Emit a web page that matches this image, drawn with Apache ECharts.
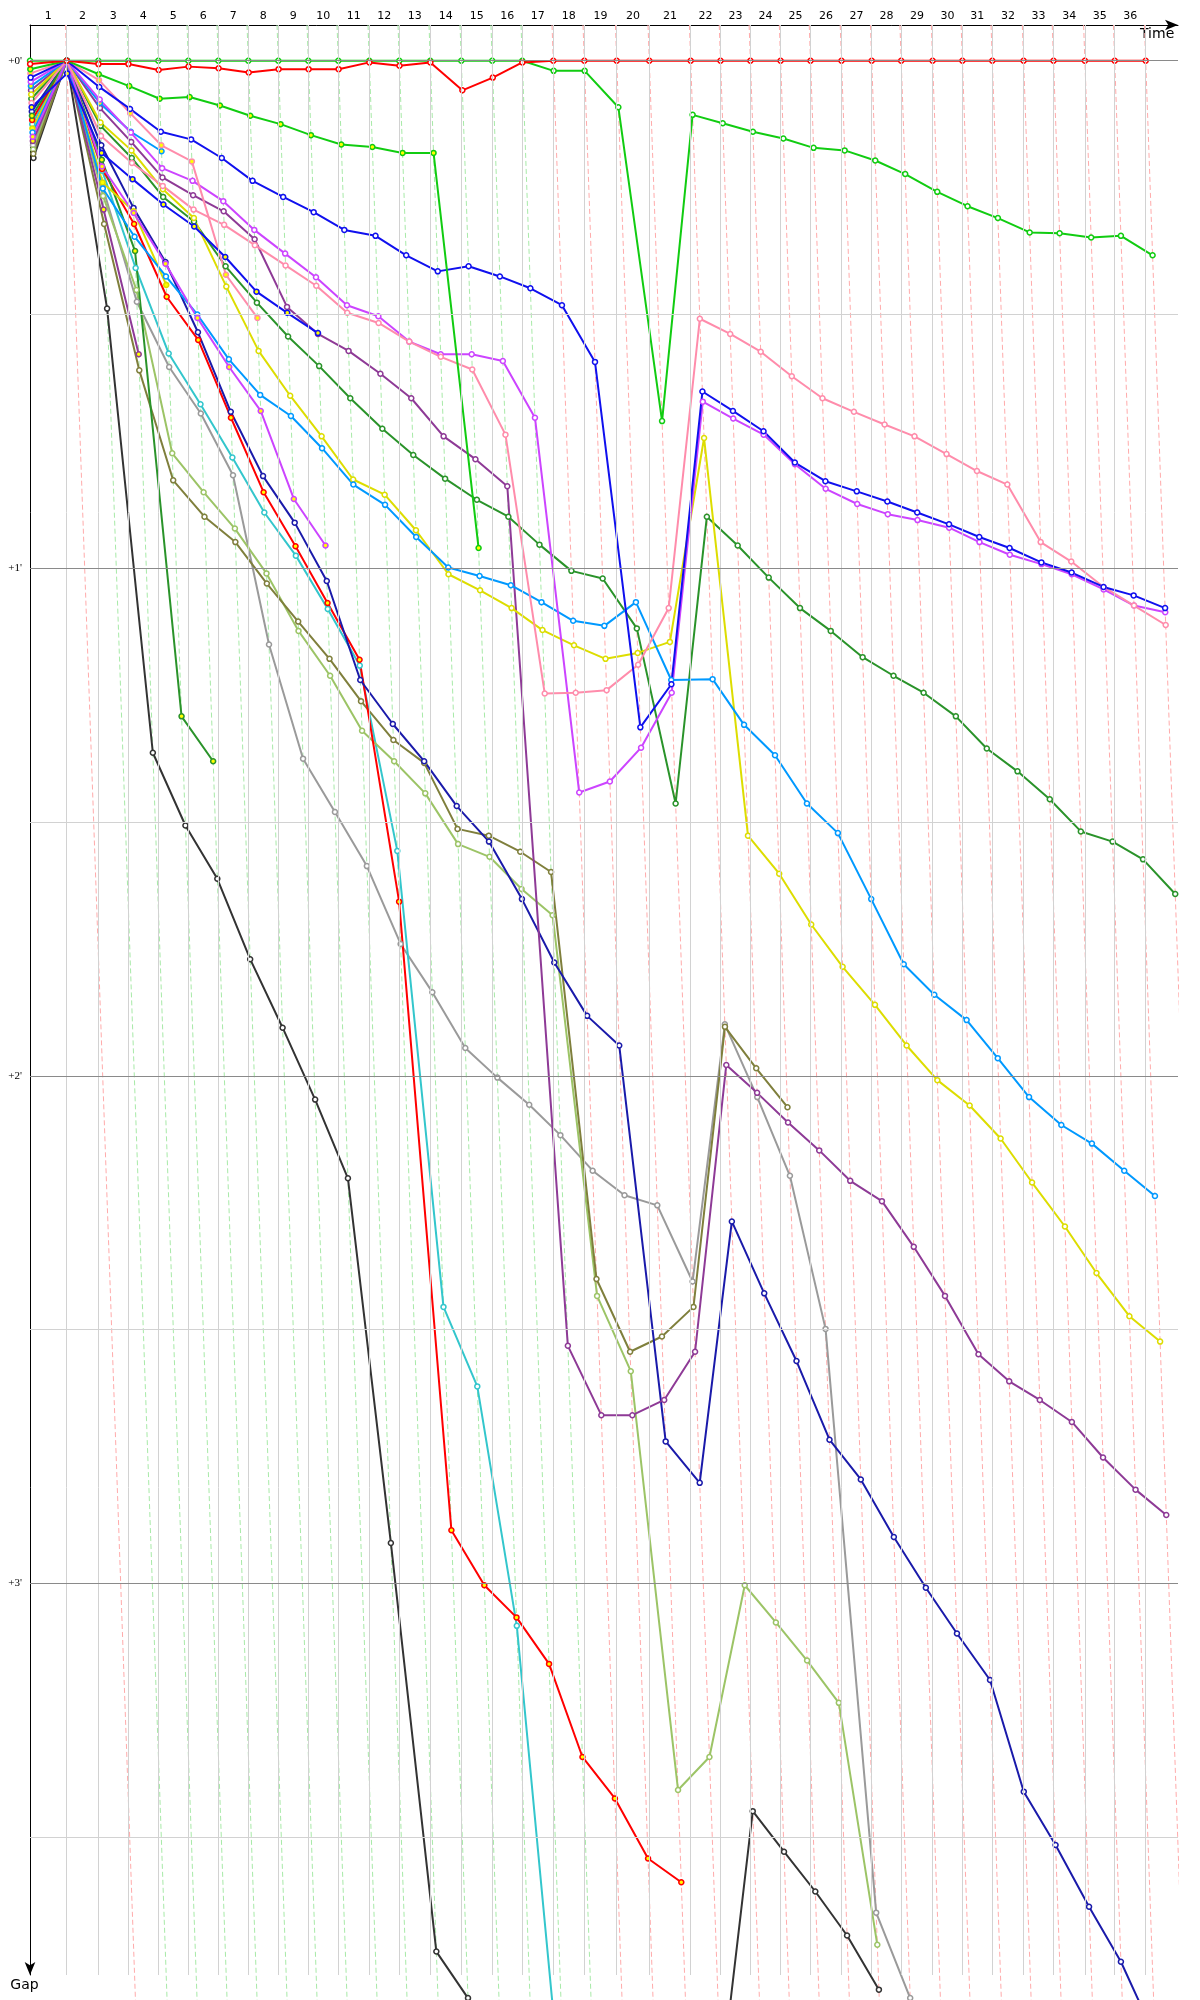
<!DOCTYPE html>
<html>
<head>
<meta charset="utf-8">
<script src="https://cdn.jsdelivr.net/npm/echarts@6/dist/echarts.min.js"></script>
<style>
  html, body { margin: 0; padding: 0; background: #fff; }
  #chart { width: 1200px; height: 2000px; }
</style>
</head>
<body>
<div id="chart"></div>
<script>
// leader's race time (s) at the end of each lap, lap 0 .. 36
var leaderTime = [0, 122.3, 227.7, 327.7, 427.7, 527.7, 627.7, 727.7, 827.7, 927.7, 1027.7,
  1131, 1231, 1334.3, 1437.7, 1540.7, 1641, 1744.3, 1847.7, 1955.7, 2064.3,
  2202.3, 2301.7, 2401.3, 2502, 2601.7, 2705, 2805.7, 2904, 3008.7, 3108,
  3207.7, 3312, 3411.7, 3516.3, 3615.7, 3719];
// who leads each lap (1..36): R = red car, G = green car
var lapLeader = ['R', 'G', 'G', 'G', 'G', 'G', 'G', 'G', 'G', 'G', 'G', 'G', 'G', 'G', 'G', 'G',
  'R', 'R', 'R', 'R', 'R', 'R', 'R', 'R', 'R', 'R', 'R', 'R', 'R', 'R', 'R', 'R', 'R', 'R', 'R', 'R'];
var gapTicks = [0, 60, 120, 180];
var minuteLines = [0, 60, 120, 180];
var halfMinuteLines = [30, 90, 150, 210];

// gaps to the leader in seconds, index = lap (0 = grid)
var greenA = [0, 0, 0, 0, 0, 0, 0, 0, 0, 0, 0, 0, 0, 0, 0, 0, 0,
  1.2, 1.2, 5.5, 42.6, 6.4, 7.4, 8.4, 9.2, 10.3, 10.6, 11.8, 13.4, 15.5, 17.2, 18.6, 20.3, 20.4, 20.9, 20.7, 23.0];
var redA = [0.4, 0, 0.4, 0.4, 1.1, 0.7, 0.9, 1.4, 1.0, 1.0, 1.0, 0.2, 0.6, 0.2, 3.5, 2.0, 0.2,
  0, 0, 0, 0, 0, 0, 0, 0, 0, 0, 0, 0, 0, 0, 0, 0, 0, 0, 0, 0];
var greenB = [1.0, 0, 1.6, 3.0, 4.5, 4.3, 5.3, 6.5, 7.5, 8.8, 9.9, 10.2, 10.9, 10.9, 57.6];
var pinkA = [5.0, 0, 8.9, 12.1, 14.8, 17.6, 19.4, 21.8, 24.2, 26.6, 29.8, 31.0, 33.2, 35.0, 36.5, 44.2, 74.8,
  74.7, 74.4, 71.4, 64.7, 30.5, 32.3, 34.4, 37.3, 39.9, 41.5, 43.0, 44.4, 46.5, 48.5, 50.1, 56.9, 59.2, 62.2, 64.4, 66.7];
var pinkB = [1.5, 0, 2.3, 6.2, 10.0, 11.9, 25.3, 30.4];
var blueA = [2.0, 0, 3.1, 5.7, 8.4, 9.3, 11.5, 14.2, 16.1, 17.9, 20.0, 20.7, 23.0, 24.9, 24.3, 25.5, 26.9,
  28.9, 35.6, 78.8, 73.7, 39.1, 41.4, 43.8, 47.5, 49.7, 50.9, 52.1, 53.4, 54.8, 56.3, 57.6, 59.3, 60.5, 62.2, 63.2, 64.7];
var blueB = [5.5, 1.5, 10.9, 14.0, 17.0, 19.6, 23.2, 27.3, 29.8, 32.2];
var violetA = [2.5, 0, 4.6, 8.5, 12.7, 14.2, 16.6, 20.0, 22.8, 25.6, 28.9, 30.2, 33.2, 34.7, 34.7, 35.5, 42.2,
  86.5, 85.2, 81.2, 74.7, 40.3, 42.3, 44.2, 47.7, 50.6, 52.4, 53.6, 54.3, 55.2, 56.9, 58.4, 59.5, 60.7, 62.5, 64.4, 65.2];
var violetB = [9.0, 0, 12.5, 18.0, 24.0, 30.4, 36.2, 41.4, 51.8, 57.3];
var skyA = [8.5, 0, 15.1, 20.8, 25.5, 30.0, 35.3, 39.5, 42.0, 45.8, 50.1, 52.5, 56.3, 59.9, 60.9, 62.0, 64.0,
  66.2, 66.8, 64.0, 73.2, 73.1, 78.5, 82.1, 87.8, 91.3, 99.1, 106.8, 110.4, 113.4, 117.9, 122.5, 125.8, 128.0, 131.2, 134.2];
var skyB = [3.0, 0, 5.0, 8.4, 10.7];
var purpleA = [3.5, 0, 5.6, 9.6, 13.8, 15.9, 17.8, 21.1, 29.1, 32.3, 34.3, 37.0, 39.9, 44.4, 47.1, 50.3, 151.9,
  160.1, 160.1, 158.3, 152.6, 118.7, 122.0, 125.5, 128.8, 132.4, 134.8, 140.2, 146.0, 152.9, 156.1, 158.3, 160.9, 165.1, 168.9, 171.9];
var purpleB = [9.5, 0, 17.6, 34.7];
var yellowA = [4.0, 0, 7.3, 10.6, 15.2, 18.6, 26.7, 34.3, 39.6, 44.4, 49.5, 51.3, 55.5, 60.7, 62.6, 64.7, 67.3,
  69.1, 70.7, 70.0, 68.7, 44.6, 91.6, 96.1, 102.1, 107.1, 111.6, 116.4, 120.5, 123.5, 127.4, 132.6, 137.8, 143.3, 148.4, 151.4];
var yellowB = [8.0, 0, 14.4, 17.8, 26.5];
var forestA = [4.5, 0, 7.7, 11.5, 16.1, 19.0, 24.3, 28.6, 32.6, 36.1, 39.9, 43.5, 46.6, 49.4, 51.9, 53.9, 57.2,
  60.3, 61.2, 67.1, 87.8, 53.9, 57.3, 61.1, 64.7, 67.4, 70.5, 72.7, 74.7, 77.5, 81.3, 84.0, 87.3, 91.1, 92.3, 94.4, 98.5];
var forestB = [6.5, 0, 11.7, 22.5, 77.5, 82.8];
var redB = [7.0, 0, 12.8, 19.3, 27.9, 33.0, 42.2, 51.0, 57.4, 64.1, 70.8, 99.4, 173.7, 180.2, 184.0, 189.5, 200.5,
  205.4, 212.5, 215.3];
var navy = [6.0, 0, 10.0, 17.4, 23.8, 32.1, 41.5, 49.1, 54.6, 61.5, 73.2, 78.4, 82.8, 88.1, 92.3, 99.1, 106.6,
  112.9, 116.4, 163.2, 168.1, 137.2, 145.7, 153.7, 163.0, 167.7, 174.5, 180.5, 185.9, 191.4, 204.6, 210.9, 218.2, 224.7, 233.5];
var cyan = [7.5, 0, 13.0, 24.5, 34.6, 40.6, 46.9, 53.4, 58.5, 64.8, 71.5, 93.4, 147.3, 156.7, 185.0, 247.0];
var grey = [10.0, 0, 15.0, 28.5, 36.2, 41.7, 49.0, 69.0, 82.5, 88.8, 95.2, 104.4, 110.1, 116.7, 120.2, 123.4, 127.0,
  131.2, 134.1, 135.3, 144.3, 113.9, 122.5, 131.8, 149.9, 218.9, 229.0];
var lime = [10.5, 0, 16.0, 27.1, 46.4, 51.0, 55.3, 60.6, 67.4, 72.7, 79.2, 82.8, 86.6, 92.6, 94.1, 97.9, 101.0,
  146.0, 154.9, 204.4, 200.5, 180.2, 184.6, 189.1, 194.1, 222.7];
var olive = [11.0, 0, 19.3, 36.6, 49.6, 53.9, 56.9, 61.8, 66.3, 70.7, 75.7, 80.3, 83.0, 90.8, 91.6, 93.5, 95.9,
  144.0, 152.6, 150.8, 147.3, 114.2, 119.1, 123.7];
var black = [11.5, 0, 29.3, 81.8, 90.4, 96.7, 106.2, 114.3, 122.8, 132.1, 175.2, 223.5, 229, 233, 236, 238, 240,
  242, 244, 246, 239, 206.9, 211.7, 216.4, 221.6, 228];

var X_MAX = 3826.7;
var Y_MIN = -4.22;
var Y_MAX = 226.27;

var WHITE = "#ffffff";
var YELLOW = "#ffff00";
var cars = [
  { gaps: black, color: "#333333", fill: WHITE },
  { gaps: grey, color: "#9a9a9a", fill: WHITE },
  { gaps: cyan, color: "#33c6cc", fill: WHITE },
  { gaps: lime, color: "#9cc466", fill: WHITE },
  { gaps: olive, color: "#7f7f3c", fill: WHITE },
  { gaps: redB, color: "#ff0000", fill: YELLOW },
  { gaps: navy, color: "#1a1aaa", fill: WHITE },
  { gaps: purpleB, color: "#8e3a96", fill: YELLOW },
  { gaps: purpleA, color: "#8e3a96", fill: WHITE },
  { gaps: forestB, color: "#2a932a", fill: YELLOW },
  { gaps: forestA, color: "#2a932a", fill: WHITE },
  { gaps: yellowB, color: "#dddd00", fill: YELLOW },
  { gaps: yellowA, color: "#dddd00", fill: WHITE },
  { gaps: skyA, color: "#0099ff", fill: WHITE },
  { gaps: skyB, color: "#0099ff", fill: YELLOW },
  { gaps: violetB, color: "#cc44ff", fill: YELLOW },
  { gaps: violetA, color: "#cc44ff", fill: WHITE },
  { gaps: pinkA, color: "#ff8cab", fill: WHITE },
  { gaps: pinkB, color: "#ff8cab", fill: YELLOW },
  { gaps: blueB, color: "#1010ee", fill: YELLOW },
  { gaps: blueA, color: "#1010ee", fill: WHITE },
  { gaps: greenB, color: "#11cc11", fill: YELLOW },
  { gaps: greenA, color: "#11cc11", fill: WHITE },
  { gaps: redA, color: "#ff0000", fill: WHITE }
];

// lap number labels sit half-way between two lap lines
var lapMids = [];
for (var k = 1; k < leaderTime.length; k++) {
  lapMids.push((leaderTime[k - 1] + leaderTime[k]) / 2);
}
function lapOf(v) {
  for (var i = 0; i < lapMids.length; i++) {
    if (Math.abs(lapMids[i] - v) < 0.5) return String(i + 1);
  }
  return "";
}

var series = [];

// grid: lap lines and gap lines
series.push({
  type: "line",
  data: [],
  silent: true,
  markLine: {
    silent: true,
    symbol: ["none", "none"],
    label: { show: false },
    animation: false,
    data: leaderTime.slice(1).map(function (t) {
      return { xAxis: t, lineStyle: { color: "#d2d2d2", width: 1, type: "solid" } };
    }).concat(halfMinuteLines.map(function (g) {
      return { yAxis: g, lineStyle: { color: "#d2d2d2", width: 1, type: "solid" } };
    })).concat(minuteLines.map(function (g) {
      return { yAxis: g, lineStyle: { color: "#8a8a8a", width: 1, type: "solid" } };
    }))
  }
});

// slanted dashed lines: where each lap is crossed for a given gap
leaderTime.slice(1).forEach(function (t, i) {
  series.push({
    type: "line",
    silent: true,
    clip: false,
    showSymbol: false,
    symbol: "none",
    lineStyle: {
      color: lapLeader[i] === "G" ? "#a8eaa8" : "#ffabab",
      width: 1,
      type: [5, 3]
    },
    data: [[t + Y_MIN, Y_MIN], [t + 232, 232]]
  });
});

cars.forEach(function (c) {
  series.push({
    type: "line",
    clip: false,
    symbol: "circle",
    symbolSize: 5,
    showAllSymbol: true,
    lineStyle: { color: c.color, width: 2 },
    itemStyle: { color: c.fill, borderColor: c.color, borderWidth: 1.5 },
    data: c.gaps.map(function (g, lap) {
      return [leaderTime[lap] + g, g];
    })
  });
});

var myChart = echarts.init(document.getElementById("chart"));
myChart.setOption({
  animation: false,
  backgroundColor: "#ffffff",
  grid: { left: 30, right: 22, top: 25, bottom: 25 },
  xAxis: {
    type: "value",
    position: "top",
    min: 0,
    max: X_MAX,
    axisLine: {
      onZero: false,
      symbol: ["none", "arrow"],
      symbolSize: [8, 13],
      lineStyle: { color: "#000", width: 1 }
    },
    axisTick: { show: false },
    splitLine: { show: false },
    axisLabel: {
      customValues: lapMids,
      formatter: lapOf,
      color: "#000",
      fontFamily: "DejaVu Sans",
      fontSize: 11,
      margin: 3
    },
    name: "Time",
    nameLocation: "end",
    nameGap: -38,
    nameTextStyle: {
      color: "#000",
      fontFamily: "DejaVu Sans",
      fontSize: 14,
      align: "left",
      verticalAlign: "top",
      padding: [2, 0, 0, 0]
    }
  },
  yAxis: {
    type: "value",
    inverse: true,
    min: Y_MIN,
    max: Y_MAX,
    axisLine: {
      onZero: false,
      // the inverted axis runs downward, so the arrow goes on its "start" end
      symbol: ["arrow", "none"],
      symbolSize: [8, 13],
      lineStyle: { color: "#000", width: 1 }
    },
    axisTick: { show: false },
    splitLine: { show: false },
    axisLabel: {
      customValues: gapTicks,
      formatter: function (v) { return "+" + Math.round(v / 60) + "'"; },
      color: "#000",
      fontFamily: "Liberation Serif",
      fontSize: 11,
      margin: 8
    },
    name: "Gap",
    nameLocation: "end",
    nameGap: 3,
    nameTextStyle: {
      color: "#000",
      fontFamily: "DejaVu Sans",
      fontSize: 14,
      align: "center",
      verticalAlign: "top",
      padding: [0, 11, 0, 0]
    }
  },
  series: series
});
</script>
</body>
</html>
